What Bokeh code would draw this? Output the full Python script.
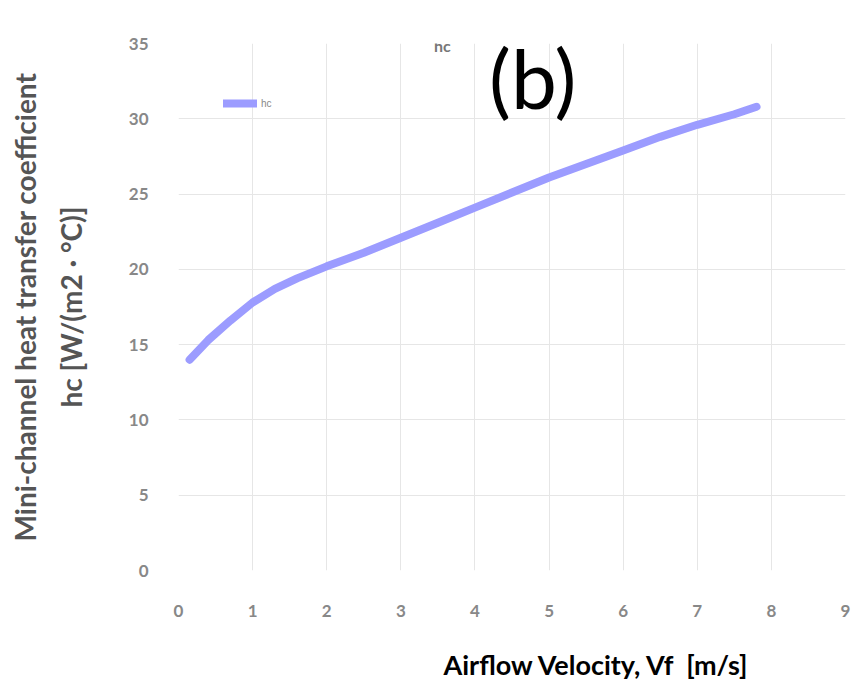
from bokeh.plotting import figure
from bokeh.models import Range1d, Label, Legend, LegendItem, FixedTicker
from bokeh.embed import file_html
from bokeh.resources import INLINE

# data
velocity = [0.15, 0.4, 0.7, 1.0, 1.3, 1.6, 2.0, 2.5, 3.0, 3.5, 4.0, 4.5, 5.0, 5.5, 6.0, 6.5, 7.0, 7.5, 7.8]
hc = [14.0, 15.3, 16.6, 17.8, 18.7, 19.4, 20.2, 21.1, 22.1, 23.1, 24.1, 25.1, 26.1, 27.0, 27.9, 28.8, 29.6, 30.3, 30.8]
x_ticks = [0, 1, 2, 3, 4, 5, 6, 7, 8, 9]
y_ticks = [0, 5, 10, 15, 20, 25, 30, 35]

p = figure(width=855, height=687, output_backend="svg", toolbar_location=None,
           x_range=Range1d(0, 9), y_range=Range1d(0, 35),
           min_border_left=178, min_border_right=10, min_border_top=43, min_border_bottom=117)
p.outline_line_color = None
p.background_fill_color = "white"

line = p.line(velocity, hc, line_color="#9c9cff", line_width=8, line_cap="round",
              line_join="round")

p.xaxis.ticker = FixedTicker(ticks=x_ticks)
p.yaxis.ticker = FixedTicker(ticks=y_ticks)
for ax in (p.xaxis[0], p.yaxis[0]):
    ax.axis_line_color = None
    ax.major_tick_line_color = None
    ax.minor_tick_line_color = None
    ax.major_label_text_color = "#888888"
    ax.major_label_text_font = "Lato"
    ax.major_label_text_font_style = "bold"
    ax.major_label_text_font_size = "17px"
p.yaxis.major_label_standoff = 24
p.xaxis.major_label_standoff = 28

p.yaxis.axis_label = "Mini-channel heat transfer coefficient\nhc [W/(m2 · °C)]"
p.yaxis.axis_label_text_font = "Lato"
p.yaxis.axis_label_text_font_style = "bold"
p.yaxis.axis_label_text_font_size = "28px"
p.yaxis.axis_label_text_color = "#555555"
p.yaxis.axis_label_standoff = 38
p.yaxis.axis_label_text_line_height = 1.35

# x label, shifted right of the frame centre as in the reference
p.xaxis.axis_label = "\u00a0" * 26 + "Airflow Velocity, Vf\u00a0 [m/s]"
p.xaxis.axis_label_text_font = "Lato"
p.xaxis.axis_label_text_font_style = "bold"
p.xaxis.axis_label_text_font_size = "27px"
p.xaxis.axis_label_text_color = "black"
p.xaxis.axis_label_standoff = 28

p.xgrid.grid_line_color = "#e6e6e6"
p.ygrid.grid_line_color = "#e6e6e6"

legend = Legend(items=[LegendItem(label="hc", renderers=[line])], location=(45, 460),
                background_fill_alpha=0, border_line_color=None, padding=0, spacing=0,
                glyph_width=34, glyph_height=14, label_text_font_size="10px",
                label_text_color="#888888", label_standoff=4, margin=0)
p.add_layout(legend)

p.add_layout(Label(x=3.56, y=34.9, text="hc", text_font="Lato", text_font_style="bold",
                   text_font_size="16px", text_color="#777777", text_align="center",
                   text_baseline="middle"))
p.add_layout(Label(x=4.78, y=32.75, text="(b)", text_font="Lato", text_font_size="82px",
                   text_color="black", text_align="center", text_baseline="middle"))

open("out.html", "w").write(file_html(p, INLINE))
